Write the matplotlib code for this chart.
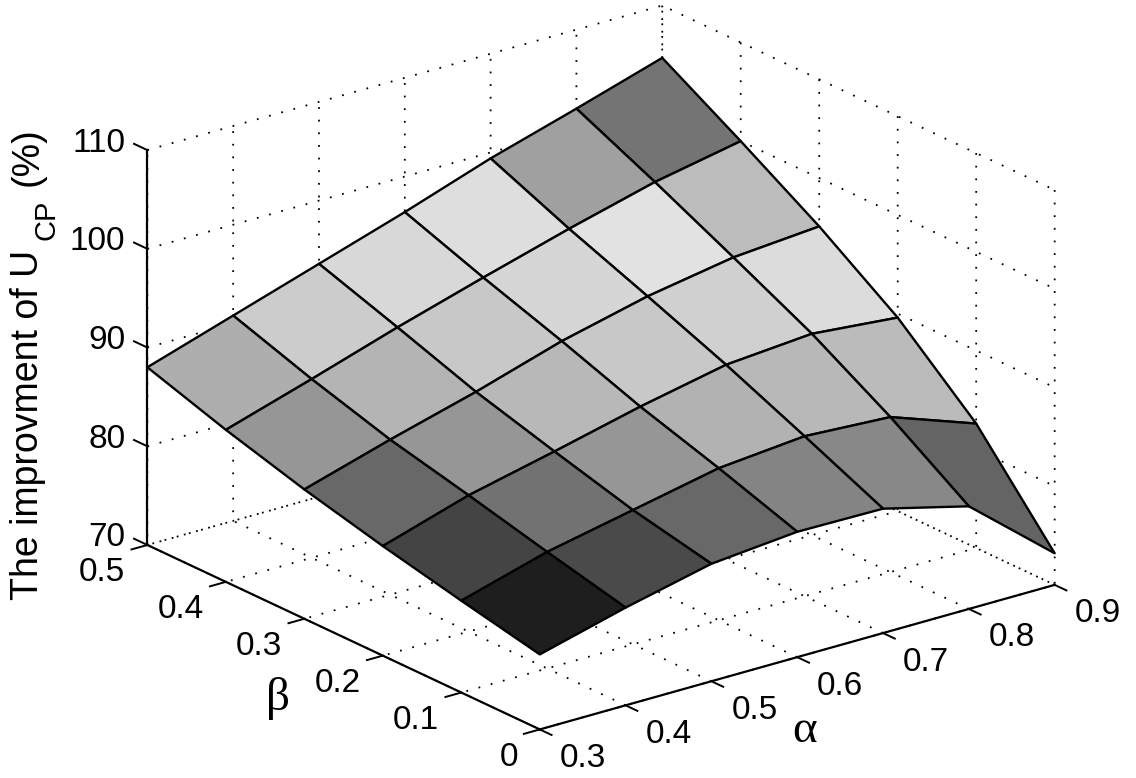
#!/usr/bin/env python

import numpy as np
import matplotlib
matplotlib.use('Agg')
import matplotlib.pyplot as plt
from mpl_toolkits.mplot3d import proj3d

alpha = [0.3, 0.4, 0.5, 0.6, 0.7, 0.8, 0.9]
beta = [0, 0.1, 0.2, 0.3, 0.4, 0.5]

# improvement, one row per beta, one column per alpha
improvement = [
    [77.6, 79.9, 81.9, 82.7, 82.6, 80.4, 73.2],
    [79.3, 81.8, 83.6, 85.4, 86.2, 85.7, 82.6],
    [81.1, 83.8, 85.8, 87.9, 89.7, 90.4, 89.6],
    [83.1, 85.7, 88.1, 90.8, 92.9, 94.4, 95.1],
    [85.4, 88.1, 90.9, 93.5, 96.0, 98.3, 100.0],
    [88.0, 90.8, 93.6, 96.4, 99.4, 102.0, 104.7],
]

# gray level of each cell (0-255)
cell_gray = [
    [30, 74, 104, 132, 136, 100],
    [68, 114, 150, 178, 184, 187],
    [104, 150, 184, 200, 208, 220],
    [150, 180, 200, 214, 226, 188],
    [174, 204, 216, 222, 160, 116],
]

z_ticks = [70, 80, 90, 100, 110]

plt.rcParams['font.family'] = ['Liberation Sans', 'DejaVu Sans']

W, H = 1136, 778
S = 1200
fig = plt.figure(figsize=(W / 100, H / 100), dpi=100)
ax = fig.add_axes([-15.2 / W, -205.7 / H, S / W, S / H], projection='3d')
ax.set_proj_type('ortho')
ax.view_init(elev=21.3, azim=-127.7)
ax.set_box_aspect((651, 642, 424), zoom=0.815)

X, Y = np.meshgrid(alpha, beta)
Z = np.array(improvement)
colors = plt.cm.gray(np.array(cell_gray) / 255.0)
ax.plot_surface(X, Y, Z, facecolors=colors, edgecolor='black', linewidth=1.7,
                rstride=1, cstride=1, shade=False, antialiased=True)

# short tick marks, matlab style
for a in alpha:
    ax.plot([a, a], [0, -0.015], [70, 70], color='black', lw=1.4)
for b in beta:
    ax.plot([0.3, 0.2815], [b, b], [70, 70], color='black', lw=1.4)
for z in z_ticks:
    ax.plot([0.3, 0.3], [0.5, 0.517], [z, z], color='black', lw=1.4)

ax.set_xlim(0.3, 0.9)
ax.set_ylim(0, 0.5)
ax.set_zlim(70, 110)
ax.set_xticks(alpha)
ax.set_yticks(beta)
ax.set_zticks(z_ticks)


def tick_label(x, y, z, s, dx, dy, ha):
    # label placed at a pixel offset from the projected tick position
    px, py, _ = proj3d.proj_transform(x, y, z, ax.get_proj())
    ax.annotate(s, (px, py), xytext=(dx, dy), textcoords='offset pixels', fontsize=24,
                ha=ha, va='center', annotation_clip=False)


for a in alpha:
    tick_label(a, 0, 70, '%g' % a, 20, -29, 'left')
for b in beta:
    tick_label(0.3, b, 70, '%g' % b, -22, -28, 'right')
for z in z_ticks:
    tick_label(0.3, 0.5, z, '%d' % z, -22, 7, 'right')

for axis in (ax.xaxis, ax.yaxis, ax.zaxis):
    axis.set_pane_color((1, 1, 1, 0))
    axis.pane.set_edgecolor('none')
    axis.line.set_color('black')
    axis.line.set_linewidth(1.6)
    axis._axinfo['grid'].update(color='black', linestyle=(0, (1, 6)), linewidth=1.3)
    axis._axinfo['tick'].update(inward_factor=0.0, outward_factor=0.0)
    for tick in axis.get_major_ticks():
        tick.label1.set_visible(False)
        tick.label2.set_visible(False)

# the z label in three pieces, the subscript is larger than mathtext would make it
fig.text(10 / W, 1 - 600 / H, 'The improvment of U', rotation=90, fontsize=27,
         ha='left', va='bottom')
fig.text(33 / W, 1 - 240 / H, 'CP', rotation=90, fontsize=21, ha='left', va='bottom')
fig.text(10 / W, 1 - 186 / H, '(%)', rotation=90, fontsize=27, ha='left', va='bottom')
fig.text(805 / W, 1 - 731 / H, '\u03b1', fontsize=34, family='Liberation Serif',
         ha='center', va='center')
fig.text(278 / W, 1 - 698 / H, '\u03b2', fontsize=34, family='Liberation Serif',
         ha='center', va='center')

fig.savefig('out.png', dpi=100)
plt.close()
